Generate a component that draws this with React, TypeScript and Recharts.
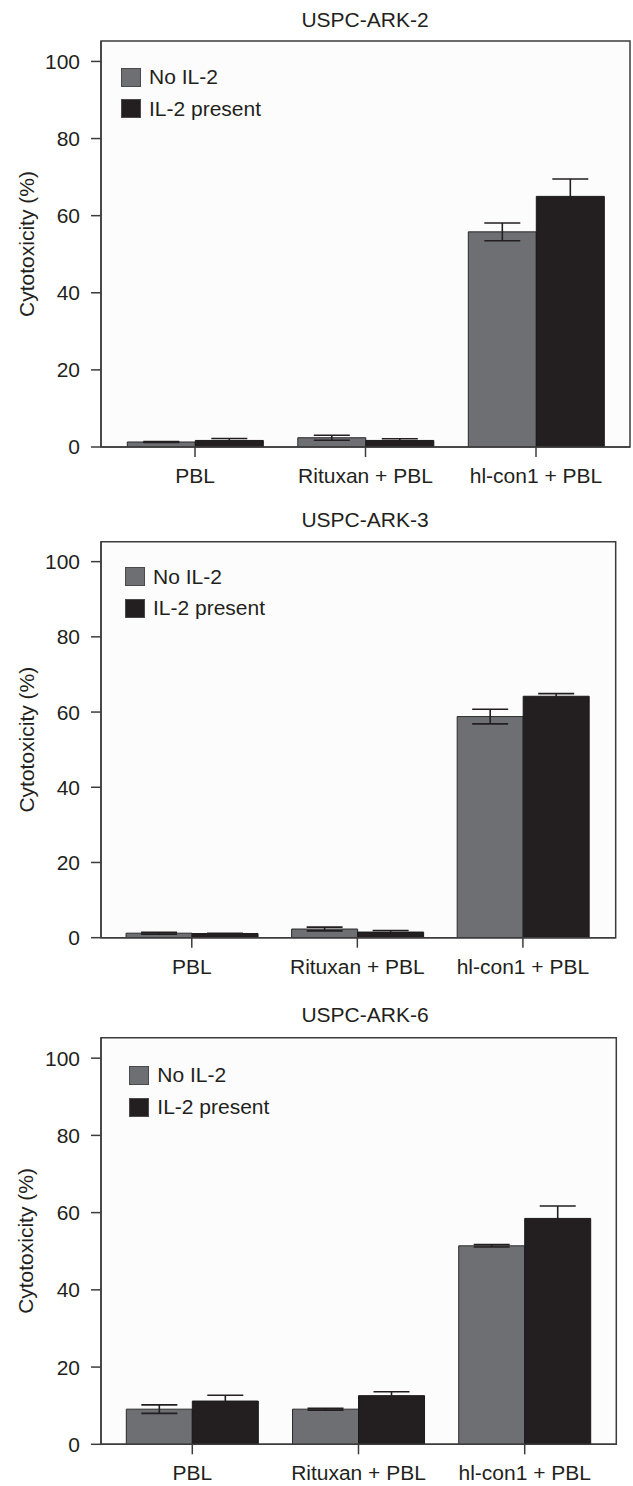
import React from "react";
import { BarChart, Bar, XAxis, YAxis, ErrorBar, Legend, CartesianGrid, ReferenceArea } from "recharts";

const categories = ["PBL", "Rituxan + PBL", "hl-con1 + PBL"];
const seriesNames = ["No IL-2", "IL-2 present"];
const yTicks = [0, 20, 40, 60, 80, 100];

const ark2NoIL2 = [1.3, 2.4, 55.8];
const ark2NoIL2Err = [0.1, 0.65, 2.3];
const ark2IL2 = [1.7, 1.7, 65.0];
const ark2IL2Err = [0.5, 0.45, 4.5];

const ark3NoIL2 = [1.2, 2.3, 58.8];
const ark3NoIL2Err = [0.25, 0.5, 1.95];
const ark3IL2 = [1.1, 1.5, 64.2];
const ark3IL2Err = [0.05, 0.4, 0.7];

const ark6NoIL2 = [9.1, 9.1, 51.4];
const ark6NoIL2Err = [1.1, 0.25, 0.3];
const ark6IL2 = [11.2, 12.6, 58.5];
const ark6IL2Err = [1.5, 1.0, 3.2];

const build = (a: number[], ae: number[], b: number[], be: number[]) =>
  categories.map((c, i) => ({ name: c, no: a[i], noErr: ae[i], il: b[i], ilErr: be[i] }));

const FONT = "'Liberation Sans', Arial, Helvetica, sans-serif";
const FS = 21;
const TEXT = "#231f20";
const AXIS = "#3c3c3c";
const GREY = "#6e6f73";
const BLACK = "#231f20";
const Y_MAX = 105.3;

const renderLegend = (props: any) => {
  const payload = [...(props.payload || [])].sort(
    (a: any, b: any) => seriesNames.indexOf(a.value) - seriesNames.indexOf(b.value)
  );
  return (
    <div style={{ fontFamily: FONT, fontSize: FS, color: TEXT }}>
      {payload.map((p: any, i: number) => (
        <div key={i} style={{ display: "flex", alignItems: "center", height: 31.6, whiteSpace: "nowrap" }}>
          <span
            style={{
              display: "inline-block",
              width: 20,
              height: 19,
              background: p.color,
              border: "1px solid #4a4a4a",
              boxSizing: "border-box",
              marginRight: 8,
            }}
          />
          <span>{p.value}</span>
        </div>
      ))}
    </div>
  );
};

const YLabel = (props: any) => {
  const vb = props.viewBox || {};
  const x = (vb.x || 0) + 26;
  const y = (vb.y || 0) + (vb.height || 0) / 2;
  return (
    <text
      x={x}
      y={y}
      transform={`rotate(-90 ${x} ${y})`}
      textAnchor="middle"
      dominantBaseline="central"
      fontFamily={FONT}
      fontSize={FS}
      fill={TEXT}
    >
      Cytotoxicity (%)
    </text>
  );
};

type PanelProps = {
  top: number;
  height: number;
  marginTop: number;
  marginRight: number;
  padL: number;
  padR: number;
  title: string;
  titleTop: number;
  data: any[];
  legendLeft: number;
  legendTop: number;
};

const Panel = (p: PanelProps) => {
  return (
    <>
      <div
        style={{
          position: "absolute",
          left: 215,
          width: 300,
          top: p.titleTop,
          textAlign: "center",
          fontFamily: FONT,
          fontSize: FS,
          lineHeight: "20px",
          color: TEXT,
        }}
      >
        {p.title}
      </div>
      <div style={{ position: "absolute", left: 0, top: p.top, width: 633, height: p.height }}>
        <BarChart
          width={633}
          height={p.height}
          data={p.data}
          margin={{ top: p.marginTop, right: p.marginRight, bottom: 0, left: 0 }}
          barCategoryGap="10.3%"
          barGap={0}
        >
          <CartesianGrid horizontal={false} vertical={false} fill="#fcfcfc" stroke="none" />
          <XAxis
            dataKey="name"
            xAxisId="bottom"
            height={40}
            padding={{ left: p.padL, right: p.padR }}
            tickSize={10}
            tickMargin={11}
            axisLine={{ stroke: AXIS, strokeWidth: 1.5 }}
            tickLine={{ stroke: AXIS, strokeWidth: 1.5 }}
            tick={{ fontFamily: FONT, fontSize: FS, fill: TEXT }}
            interval={0}
          />
          <XAxis dataKey="name" xAxisId="frame" hide />
          <YAxis
            yAxisId="left"
            width={101}
            domain={[0, Y_MAX]}
            allowDataOverflow
            ticks={yTicks}
            tickSize={10}
            tickMargin={11}
            axisLine={{ stroke: AXIS, strokeWidth: 1.5 }}
            tickLine={{ stroke: AXIS, strokeWidth: 1.5 }}
            tick={{ fontFamily: FONT, fontSize: FS, fill: TEXT }}
            label={<YLabel />}
          />
          <ReferenceArea
            xAxisId="frame"
            yAxisId="left"
            y1={0}
            y2={Y_MAX}
            fill="none"
            fillOpacity={0}
            stroke={AXIS}
            strokeWidth={1.5}
            ifOverflow="visible"
          />
          <Legend
            layout="vertical"
            align="center"
            verticalAlign="middle"
            content={renderLegend}
            wrapperStyle={{ left: p.legendLeft, top: p.legendTop, width: 220 }}
          />
          <Bar
            dataKey="no"
            name={seriesNames[0]}
            xAxisId="bottom"
            yAxisId="left"
            fill={GREY}
            stroke="#2a2a2a"
            strokeWidth={1}
            isAnimationActive={false}
          >
            <ErrorBar dataKey="noErr" width={18} stroke={BLACK} strokeWidth={1.6} direction="y" />
          </Bar>
          <Bar
            dataKey="il"
            name={seriesNames[1]}
            xAxisId="bottom"
            yAxisId="left"
            fill={BLACK}
            stroke="#1a1a1a"
            strokeWidth={1}
            isAnimationActive={false}
          >
            <ErrorBar dataKey="ilErr" width={18} stroke={BLACK} strokeWidth={1.6} direction="y" />
          </Bar>
        </BarChart>
      </div>
    </>
  );
};

export default function App() {
  return (
    <div style={{ position: "absolute", left: 0, top: 0, width: 633, height: 1486, background: "#fff", overflow: "hidden" }}>
      <Panel
        top={0}
        height={487}
        marginTop={41}
        marginRight={3}
        padL={8.75}
        padR={8.75}
        title="USPC-ARK-2"
        titleTop={10.25}
        data={build(ark2NoIL2, ark2NoIL2Err, ark2IL2, ark2IL2Err)}
        legendLeft={121}
        legendTop={61.4}
      />
      <Panel
        top={490}
        height={487.7}
        marginTop={51.7}
        marginRight={17.3}
        padL={8}
        padR={10}
        title="USPC-ARK-3"
        titleTop={509.5}
        data={build(ark3NoIL2, ark3NoIL2Err, ark3IL2, ark3IL2Err)}
        legendLeft={125}
        legendTop={71}
      />
      <Panel
        top={986}
        height={498.3}
        marginTop={51.7}
        marginRight={16.7}
        padL={8.2}
        padR={8.5}
        title="USPC-ARK-6"
        titleTop={1004.5}
        data={build(ark6NoIL2, ark6NoIL2Err, ark6IL2, ark6IL2Err)}
        legendLeft={129.3}
        legendTop={73.7}
      />
    </div>
  );
}
